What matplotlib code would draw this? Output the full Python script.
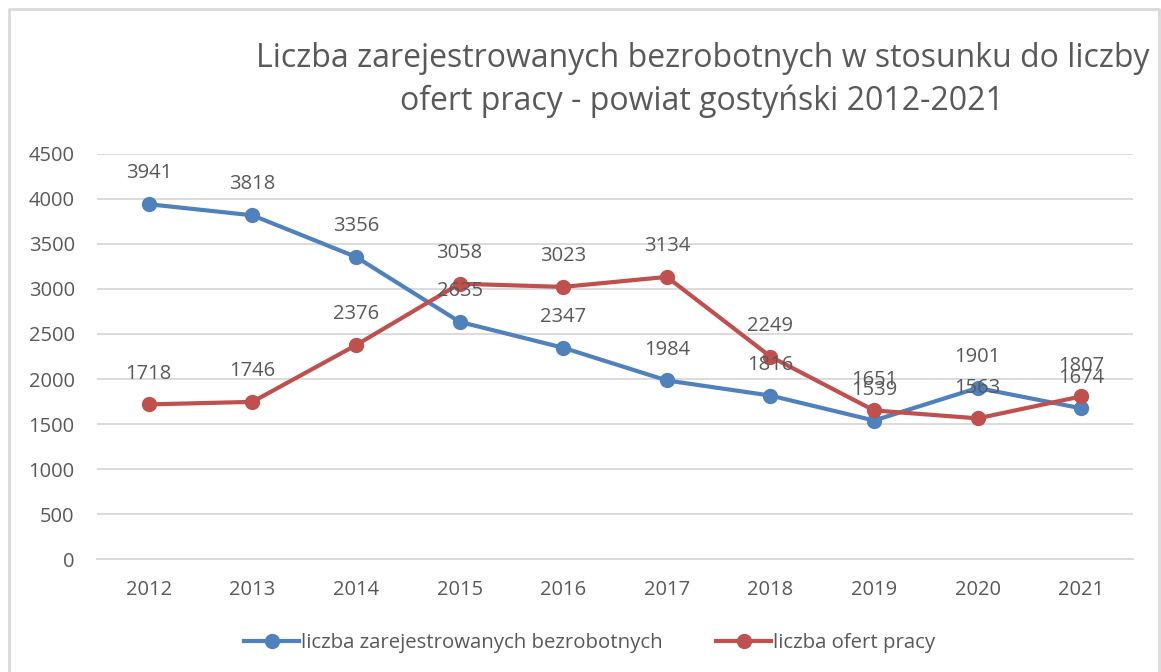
import matplotlib.pyplot as plt
from matplotlib.lines import Line2D

plt.rcParams['font.family'] = ['Open Sans', 'DejaVu Sans']

years = ['2012', '2013', '2014', '2015', '2016', '2017', '2018', '2019', '2020', '2021']
bezrobotni = [3941, 3818, 3356, 2635, 2347, 1984, 1816, 1539, 1901, 1674]
oferty = [1718, 1746, 2376, 3058, 3023, 3134, 2249, 1651, 1563, 1807]
yticks = [0, 500, 1000, 1500, 2000, 2500, 3000, 3500, 4000, 4500]

blue = '#4F81BD'
red = '#C0504D'
grey = '#595959'

fig = plt.figure(figsize=(11.61, 6.72), dpi=100)
ax = fig.add_axes([0.0835, 0.168, 0.8925, 0.603])

x = range(len(years))
ax.plot(x, bezrobotni, color=blue, lw=3, marker='o', ms=10, solid_capstyle='round', zorder=3)
ax.plot(x, oferty, color=red, lw=3, marker='o', ms=10, solid_capstyle='round', zorder=3)

# data labels above points (Excel style, overlapping where values are close)
for i, v in enumerate(bezrobotni):
    ax.annotate(str(v), (i, v), xytext=(0, 15), textcoords='offset points',
                ha='center', va='bottom', fontsize=14.5, color=grey)
for i, v in enumerate(oferty):
    ax.annotate(str(v), (i, v), xytext=(0, 15), textcoords='offset points',
                ha='center', va='bottom', fontsize=14.5, color=grey)

ax.set_xlim(-0.5, len(years) - 0.5)
ax.set_ylim(0, 4500)
ax.set_yticks(yticks)
ax.set_xticks(list(x))
ax.set_xticklabels(years)
ax.grid(axis='y', color='#D9D9D9', lw=1.3)
ax.set_axisbelow(True)
for s in ['top', 'right', 'left']:
    ax.spines[s].set_visible(False)
ax.spines['bottom'].set_color('#D9D9D9')
ax.spines['bottom'].set_linewidth(1.3)
ax.tick_params(length=0, labelsize=14.5, labelcolor=grey)
ax.tick_params(axis='y', pad=16)
ax.tick_params(axis='x', pad=15)

fig.text(0.605, 0.881, 'Liczba zarejestrowanych bezrobotnych w stosunku do liczby\nofert pracy - powiat gostyński 2012-2021',
         ha='center', va='center', fontsize=23, color=grey, linespacing=1.4)

handles = [Line2D([], [], color=blue, lw=3, marker='o', ms=10),
           Line2D([], [], color=red, lw=3, marker='o', ms=10)]
fig.legend(handles, ['liczba zarejestrowanych bezrobotnych', 'liczba ofert pracy'],
           loc='center', bbox_to_anchor=(0.508, 0.043), ncol=2, frameon=False,
           fontsize=14.7, labelcolor=grey, handlelength=2.7, handletextpad=0.1,
           columnspacing=2.6)

# chart border
fig.add_artist(Line2D([0.0075, 0.0075, 0.9985, 0.9985], [0, 0.987, 0.987, 0],
                      color='#D9D9D9', lw=2, transform=fig.transFigure))

fig.savefig('out.png', dpi=100)
